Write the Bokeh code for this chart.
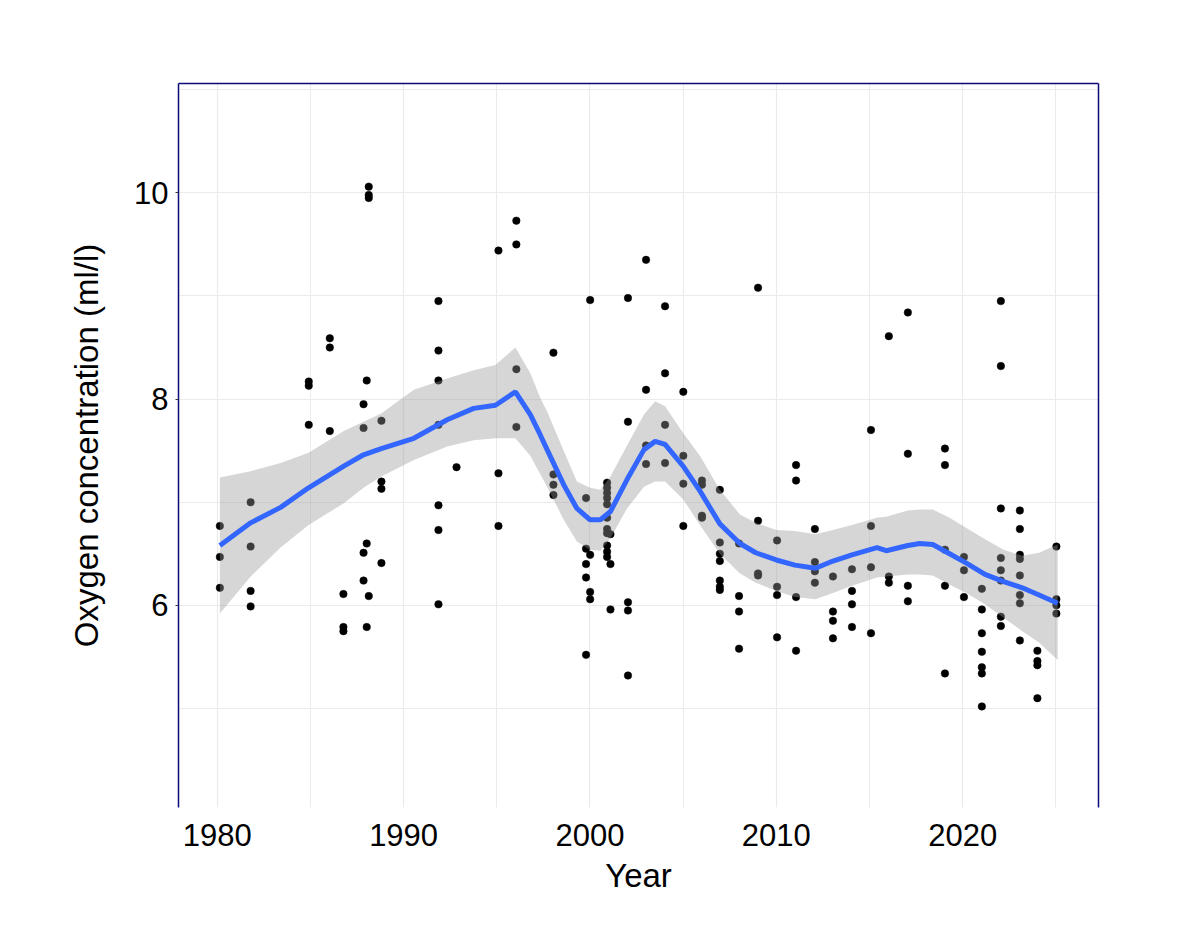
from bokeh.plotting import figure
from bokeh.models import Range1d, FixedTicker, LinearAxis, ColumnDataSource
from bokeh.embed import file_html
from bokeh.resources import INLINE

# ---- tick definitions ----
x_ticks = [1980, 1990, 2000, 2010, 2020]
x_minor = [1985, 1995, 2005, 2015, 2025]
y_ticks = [6, 8, 10]
y_minor = [5, 7, 9, 11]

# ---- observations (decimal year, oxygen ml/l) ----
obs_year = (
    [1980.14] * 3 + [1981.79] * 4 + [1984.91] * 3 + [1986.04] * 3 + [1986.77] * 3
    + [1987.85] * 4 + [1988.02] * 3 + [1988.13] * 4 + [1988.81] * 4
    + [1991.87] * 7 + [1992.84] * 1 + [1995.09] * 3 + [1996.05] * 4
    + [1998.04] * 4 + [1999.79] * 5 + [2000.01] * 4 + [2000.92] * 11
    + [2001.10] * 3 + [2002.04] * 5 + [2003.01] * 4 + [2004.03] * 4
    + [2005.01] * 4 + [2006.01] * 4 + [2006.97] * 7 + [2008.00] * 4
    + [2009.02] * 4 + [2010.04] * 4 + [2011.06] * 4 + [2012.07] * 4
    + [2013.04] * 4 + [2014.06] * 4 + [2015.08] * 4 + [2016.04] * 3
    + [2017.06] * 4 + [2019.05] * 5 + [2020.07] * 3 + [2021.03] * 7
    + [2022.05] * 8 + [2023.07] * 8 + [2024.01] * 4 + [2025.03] * 4
)
obs_oxygen = [
    6.77, 6.47, 6.17,
    7.00, 6.57, 6.14, 5.99,
    8.17, 8.13, 7.75,
    8.59, 8.50, 7.69,
    6.11, 5.79, 5.75,
    7.95, 7.72, 6.51, 6.24,
    8.18, 6.60, 5.79,
    10.06, 9.98, 9.95, 6.09,
    7.79, 7.20, 7.13, 6.41,
    8.95, 8.47, 8.18, 7.75, 6.97, 6.73, 6.01,
    7.34,
    9.44, 7.28, 6.77,
    9.73, 9.50, 8.29, 7.73,
    8.45, 7.27, 7.17, 7.07,
    7.04, 6.55, 6.40, 6.27, 5.52,
    8.96, 6.49, 6.13, 6.06,
    7.19, 7.14, 7.09, 7.04, 6.98, 6.85, 6.74, 6.70, 6.58, 6.52, 6.47,
    6.69, 6.40, 5.96,
    8.98, 7.78, 6.03, 5.95, 5.32,
    9.35, 8.09, 7.55, 7.37,
    8.90, 8.25, 7.75, 7.38,
    8.07, 7.45, 7.18, 6.77,
    7.21, 7.17, 6.87, 6.85,
    7.12, 6.61, 6.50, 6.43, 6.24, 6.18, 6.15,
    6.60, 6.09, 5.94, 5.58,
    9.08, 6.82, 6.31, 6.29,
    6.63, 6.18, 6.10, 5.69,
    7.36, 7.21, 6.08, 5.56,
    6.74, 6.42, 6.33, 6.22,
    6.28, 5.94, 5.85, 5.68,
    6.35, 6.14, 6.01, 5.79,
    7.70, 6.77, 6.37, 5.73,
    8.61, 6.28, 6.22,
    8.84, 7.47, 6.19, 6.04,
    7.52, 7.36, 6.54, 6.19, 5.34,
    6.47, 6.34, 6.08,
    6.16, 5.96, 5.73, 5.55, 5.40, 5.34, 5.02,
    8.95, 8.32, 6.94, 6.46, 6.34, 6.24, 5.89, 5.80,
    6.92, 6.74, 6.49, 6.45, 6.29, 6.10, 6.02, 5.66,
    5.56, 5.46, 5.42, 5.10,
    6.57, 6.06, 6.00, 5.92,
]

# ---- smoothed trend (LOESS fit with 95% band) ----
smooth_year = [1980.14, 1981.79, 1983.40, 1984.90, 1986.79, 1987.85, 1988.80,
               1990.55, 1992.34, 1993.76, 1994.93, 1996.00, 1996.80, 1997.34,
               1997.70, 1998.59, 1999.30, 2000.00, 2000.56, 2001.10, 2001.99,
               2002.90, 2003.50, 2004.03, 2005.00, 2005.90, 2006.97, 2008.05,
               2008.90, 2010.00, 2011.00, 2012.10, 2013.04, 2014.06, 2015.40,
               2015.90, 2017.06, 2017.70, 2018.40, 2019.30, 2020.20, 2021.20,
               2022.20, 2023.20, 2024.10, 2025.10]
smooth_fit = [6.58, 6.80, 6.95, 7.14, 7.35, 7.46, 7.52,
              7.62, 7.80, 7.91, 7.94, 8.07, 7.85, 7.65,
              7.51, 7.17, 6.94, 6.83, 6.83, 6.91, 7.22,
              7.51, 7.59, 7.56, 7.35, 7.11, 6.79, 6.60,
              6.51, 6.44, 6.39, 6.36, 6.43, 6.49, 6.56,
              6.53, 6.58, 6.60, 6.59, 6.50, 6.41, 6.30,
              6.23, 6.17, 6.10, 6.02]
smooth_lower = [5.92, 6.28, 6.56, 6.78, 6.99, 7.14, 7.25,
                7.41, 7.54, 7.60, 7.62, 7.62, 7.45, 7.27,
                7.15, 6.83, 6.62, 6.54, 6.53, 6.65, 6.94,
                7.15, 7.20, 7.20, 7.03, 6.78, 6.50, 6.31,
                6.22, 6.14, 6.08, 6.06, 6.12, 6.19, 6.27,
                6.28, 6.30, 6.30, 6.29, 6.20, 6.12, 6.01,
                5.88, 5.75, 5.64, 5.47]
smooth_upper = [7.24, 7.30, 7.38, 7.48, 7.69, 7.78, 7.86,
                8.09, 8.20, 8.28, 8.33, 8.50, 8.25, 8.01,
                7.88, 7.50, 7.20, 7.14, 7.12, 7.25, 7.55,
                7.85, 7.98, 7.93, 7.67, 7.45, 7.12, 6.88,
                6.80, 6.73, 6.72, 6.69, 6.73, 6.78, 6.85,
                6.86, 6.92, 6.93, 6.93, 6.85, 6.75, 6.64,
                6.54, 6.48, 6.51, 6.59]

FONT = "Liberation Sans"
BORDER = "#0b0b7a"

p = figure(width=1169, height=920, output_backend="svg", toolbar_location=None,
           x_range=Range1d(1977.92, 2027.29), y_range=Range1d(4.04, 11.06),
           min_border_left=178, min_border_right=71, min_border_top=83,
           min_border_bottom=113)
p.outline_line_color = None
p.background_fill_color = "white"
p.border_fill_color = "white"

# axes
p.xaxis.ticker = FixedTicker(ticks=x_ticks, minor_ticks=x_minor)
p.yaxis.ticker = FixedTicker(ticks=y_ticks, minor_ticks=y_minor)
p.xaxis.axis_label = "Year"
p.yaxis.axis_label = "Oxygen concentration (ml/l)"
for ax in (p.xaxis, p.yaxis):
    ax.major_label_text_font = FONT
    ax.major_label_text_font_size = "31px"
    ax.major_label_text_color = "black"
    ax.axis_label_text_font = FONT
    ax.axis_label_text_font_size = "33px"
    ax.axis_label_text_font_style = "normal"
    ax.axis_label_text_color = "black"
    ax.minor_tick_line_color = None
p.xaxis.axis_line_color = None
p.xaxis.major_tick_line_color = None
p.xaxis.major_label_standoff = 10
p.xaxis.axis_label_standoff = 8
p.yaxis.axis_line_color = BORDER
p.yaxis.axis_line_width = 1.5
p.yaxis.major_tick_line_color = "#333333"
p.yaxis.major_tick_out = 3
p.yaxis.major_tick_in = 0
p.yaxis.major_label_standoff = 6
p.yaxis.axis_label_standoff = 26

for side in ("right", "above"):
    extra = LinearAxis(ticker=FixedTicker(ticks=[]), axis_line_color=BORDER,
                       axis_line_width=1.5, major_tick_line_color=None,
                       minor_tick_line_color=None)
    p.add_layout(extra, side)

# grid
p.grid.grid_line_color = "#ebebeb"
p.grid.grid_line_width = 1.2
p.grid.minor_grid_line_color = "#ebebeb"
p.grid.minor_grid_line_width = 1.0

# points
pts = ColumnDataSource(dict(year=obs_year, oxygen=obs_oxygen))
p.scatter("year", "oxygen", source=pts, size=7.5, fill_color="black",
          line_color="black", line_width=0.5)

# confidence band + fit
sm = ColumnDataSource(dict(year=smooth_year, fit=smooth_fit,
                           lo=smooth_lower, hi=smooth_upper))
p.varea(x="year", y1="lo", y2="hi", source=sm, fill_color="#999999",
        fill_alpha=0.4)
p.line("year", "fit", source=sm, line_color="#3366FF", line_width=5)

open("out.html", "w").write(file_html(p, INLINE))
